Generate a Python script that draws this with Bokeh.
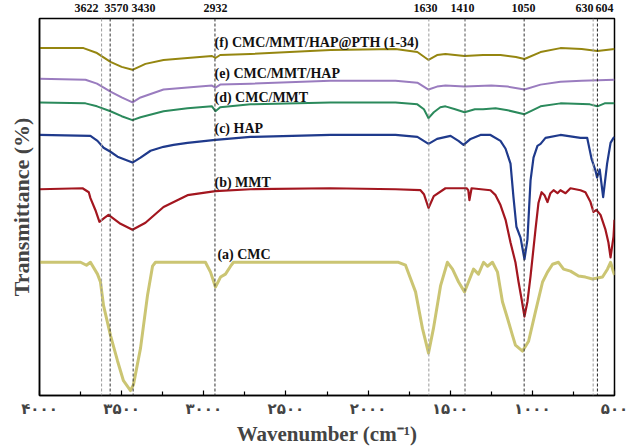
from bokeh.plotting import figure
from bokeh.models import Range1d, FixedTicker, Span, Label, LinearAxis
from bokeh.embed import file_html
from bokeh.resources import INLINE

# ---- data (wavenumber cm-1, transmittance a.u., curves offset vertically) ----
wn_a = [4000, 3750, 3714, 3690, 3647, 3629, 3610, 3568, 3525, 3489, 3446, 3428, 3385, 3343, 3312, 3294,
        2990, 2959, 2929, 2898, 2868, 2837, 2819, 1815, 1772, 1711, 1669, 1632, 1602, 1559, 1517, 1486,
        1449, 1413, 1389, 1358, 1328, 1297, 1273, 1243, 1212, 1182, 1151, 1121, 1103, 1060, 1023, 981,
        938, 908, 877, 841, 810, 768, 719, 677, 634, 573, 543, 524, 506, 500]
t_a = [135, 135, 132, 135, 123, 115, 91, 61, 35, 15, 5, 11, 48, 101, 131, 135,
       135, 125, 110, 120, 123, 131, 135, 135, 132, 105, 68, 43, 68, 111, 135, 128,
       115, 105, 115, 128, 123, 135, 131, 135, 125, 95, 78, 61, 51, 45, 55, 85,
       115, 125, 133, 135, 128, 126, 121, 120, 118, 120, 128, 135, 125, 122]

wn_b = [4000, 3738, 3700, 3690, 3660, 3635, 3605, 3580, 3507, 3434, 3355, 3245, 3099, 2929, 2716, 2229,
        1833, 1681, 1660, 1632, 1600, 1529, 1400, 1390, 1383, 1370, 1255, 1224, 1194, 1163, 1133, 1103,
        1084, 1066, 1048, 1030, 1011, 981, 963, 944, 926, 908, 890, 871, 847, 829, 798, 768, 707, 677,
        646, 628, 610, 585, 555, 537, 524, 506, 500]
t_b = [209, 210, 206, 200, 188, 176, 180, 183, 174, 168, 175, 191, 203, 207, 209, 210,
       209, 208, 204, 190, 202, 210, 210, 208, 198, 210, 208, 203, 193, 178, 155, 135,
       115, 98, 80, 95, 121, 168, 195, 206, 203, 196, 205, 208, 205, 208, 205, 210, 208, 206,
       196, 186, 188, 183, 168, 155, 140, 161, 178]

wn_c = [4000, 3690, 3647, 3610, 3568, 3525, 3434, 3385, 3324, 3245, 3184, 3099, 2929, 2716, 2229, 1833,
        1700, 1632, 1580, 1498, 1450, 1419, 1376, 1316, 1255, 1194, 1163, 1133, 1115, 1097, 1072, 1048,
        1030, 1011, 993, 969, 950, 920, 829, 707, 666, 640, 616, 606, 590, 569, 545, 524, 506, 500]
t_c = [264, 263, 258, 251, 247, 242, 236, 241, 248, 252, 254, 256, 259, 262, 264, 264,
       262, 255, 260, 263, 258, 254, 260, 264, 264, 258, 250, 235, 201, 171, 160, 138,
       158, 218, 241, 253, 255, 261, 264, 261, 261, 240, 228, 221, 229, 201, 235, 256, 261, 262]

wn_d = [4000, 3720, 3650, 3568, 3500, 3434, 3385, 3245, 3099, 2950, 2929, 2900, 2716, 2229, 1833, 1700,
        1660, 1632, 1600, 1560, 1529, 1470, 1413, 1350, 1300, 1224, 1150, 1048, 1000, 950, 829, 650,
        604, 560, 500]
t_d = [297, 296, 293, 288, 283, 279, 282, 288, 291, 293, 288, 292, 295, 297, 297, 295,
       290, 281, 287, 292, 293, 290, 287, 290, 290, 291, 289, 285, 289, 293, 296, 295,
       293, 296, 296]

wn_e = [4000, 3720, 3650, 3568, 3500, 3434, 3385, 3245, 3099, 2950, 2929, 2900, 2716, 2229, 1833, 1700,
        1632, 1580, 1529, 1413, 1250, 1150, 1048, 950, 829, 700, 500]
t_e = [321, 320, 316, 308, 302, 297, 302, 310, 312, 314, 312, 315, 316, 319, 319, 317,
       310, 313, 314, 313, 314, 313, 310, 315, 318, 319, 320]

wn_f = [4000, 3732, 3650, 3568, 3500, 3434, 3355, 3245, 3099, 2950, 2929, 2900, 2716, 2229, 1833, 1700,
        1632, 1580, 1529, 1413, 1300, 1194, 1100, 1048, 950, 829, 700, 604, 500]
t_f = [352, 352, 347, 338, 333, 330, 336, 340, 342, 344, 342, 345, 346, 350, 351, 348,
       340, 345, 346, 344, 345, 345, 343, 341, 348, 352, 351, 349, 351]

series_names = ["(a) CMC", "(b) MMT", "(c) HAP", "(d) CMC/MMT", "(e) CMC/MMT/HAP",
                "(f) CMC/MMT/HAP@PTH (1-34)"]

peak_lines = [3622, 3570, 3430, 2932, 1630, 1410, 1050, 630, 604]
peak_label_text = ["3622", "3570", "3430", "2932", "1630", "1410", "1050", "630", "604"]
peak_label_pos = [3714, 3531, 3367, 2929, 1650, 1425, 1054, 683, 561]

tick_values = [4000, 3500, 3000, 2500, 2000, 1500, 1000, 500]
minor_values = [3750, 3250, 2750, 2250, 1750, 1250, 750]
tick_labels = ["۴۰۰۰", "۳۵۰۰", "۳۰۰۰", "۲۵۰۰", "۲۰۰۰", "۱۵۰۰", "۱۰۰۰", "۵۰۰"]

# ---- style ----
SERIF = "Liberation Serif"
colors = ["#cbc573", "#a3161f", "#1f3a8c", "#2b8a5c", "#9a7cbf", "#958610"]
widths = [3, 2.2, 2.2, 2, 2, 2]
line_colors = ["#9a9a9a", "#333333", "#333333", "#333333", "#9a9a9a", "#555555", "#333333", "#9a9a9a", "#222222"]
name_wn = [2917, 2935, 2935, 2935, 2935, 2935]
name_t = [143, 216, 271, 302, 326, 358]

p = figure(width=635, height=448, x_range=Range1d(4000, 500), y_range=Range1d(0, 382),
           output_backend="svg", toolbar_location=None,
           min_border_left=39, min_border_right=21, min_border_top=16, min_border_bottom=50)
p.background_fill_color = "white"
p.border_fill_color = "white"
p.xgrid.visible = False
p.ygrid.visible = False
p.outline_line_color = "black"
p.outline_line_width = 1.5

# dashed marker lines
for wn, c in zip(peak_lines, line_colors):
    p.add_layout(Span(location=wn, dimension="height", line_color=c, line_width=1,
                      line_dash="3 2"))

# spectra
all_wn = [wn_a, wn_b, wn_c, wn_d, wn_e, wn_f]
all_t = [t_a, t_b, t_c, t_d, t_e, t_f]
for xs, ys, c, w in zip(all_wn, all_t, colors, widths):
    p.line(xs, ys, line_color=c, line_width=w, line_join="round")

# curve names
for name, x, y in zip(series_names, name_wn, name_t):
    p.add_layout(Label(x=x, y=y, text=name, text_font=SERIF, text_font_style="bold",
                       text_font_size="14px", text_align="left", text_baseline="middle",
                       text_color="#111111"))

# bottom x axis
xa = p.below[0]
xa.ticker = FixedTicker(ticks=tick_values, minor_ticks=minor_values)
xa.major_label_overrides = {v: s for v, s in zip(tick_values, tick_labels)}
xa.major_tick_in = 5
xa.major_tick_out = 0
xa.minor_tick_in = 4
xa.minor_tick_out = 0
xa.axis_line_width = 1.5
xa.major_tick_line_width = 1.2
xa.minor_tick_line_width = 1.2
xa.major_label_text_font = "DejaVu Sans"
xa.major_label_text_font_style = "bold"
xa.major_label_text_font_size = "15px"
xa.major_label_standoff = 4
xa.axis_label = "Wavenumber (cm⁻¹)"
xa.axis_label_text_font = SERIF
xa.axis_label_text_font_style = "bold"
xa.axis_label_text_font_size = "21px"
xa.axis_label_standoff = 1

# y axis
ya = p.left[0]
ya.ticker = FixedTicker(ticks=[])
ya.major_tick_line_color = None
ya.minor_tick_line_color = None
ya.axis_line_width = 1.5
ya.axis_label = "Transmittance (%)"
ya.axis_label_text_font = SERIF
ya.axis_label_text_font_style = "bold"
ya.axis_label_text_font_size = "22px"
ya.axis_label_standoff = 6

# peak labels above the frame (top axis)
top = LinearAxis(ticker=FixedTicker(ticks=peak_label_pos, minor_ticks=[]),
                 major_label_overrides={v: s for v, s in zip(peak_label_pos, peak_label_text)},
                 axis_line_color=None, major_tick_line_color=None, minor_tick_line_color=None,
                 major_label_text_font=SERIF, major_label_text_font_style="bold",
                 major_label_text_font_size="12px", major_label_standoff=1,
                 major_label_text_color="#111111")
p.add_layout(top, "above")

open("out.html", "w").write(file_html(p, INLINE))
